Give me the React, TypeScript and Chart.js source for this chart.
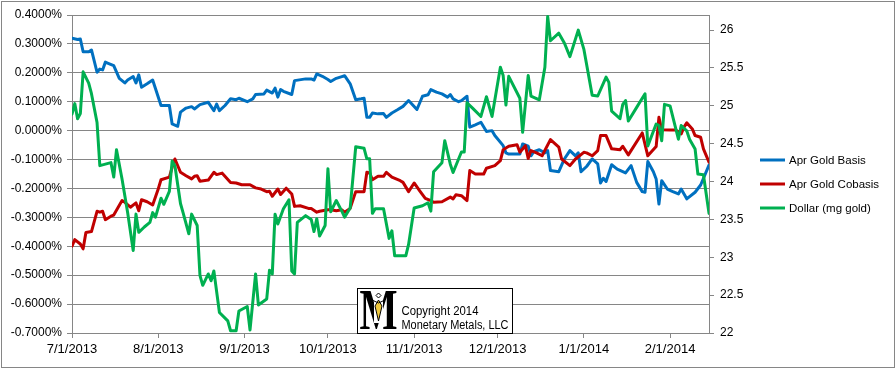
import React, { useEffect, useRef } from 'react';
import { Chart, registerables } from 'chart.js';

Chart.register(...registerables);

// x values are days since 7/1/2013
const monthTickDays = [0, 31, 62, 92, 123, 153, 184, 215];
const monthTickLabels = ['7/1/2013', '8/1/2013', '9/1/2013', '10/1/2013', '11/1/2013', '12/1/2013', '1/1/2014', '2/1/2014'];
const basisTicks = [-0.7, -0.6, -0.5, -0.4, -0.3, -0.2, -0.1, 0, 0.1, 0.2, 0.3, 0.4];
const dollarTicks = [22, 22.5, 23, 23.5, 24, 24.5, 25, 25.5, 26];

const seriesNames = ['Apr Gold Basis', 'Apr Gold Cobasis', 'Dollar (mg gold)'];

const basisDays = [0, 2, 3, 4, 6, 7, 9, 10, 11, 12, 13, 15, 17, 19, 20, 22, 23, 24, 25, 27, 29, 32, 35, 36, 38, 39, 41, 43, 44, 46, 49, 51, 52, 53, 55, 57, 59, 60, 63, 65, 66, 69, 70, 72, 73, 74, 75, 76, 79, 80, 84, 86, 87, 88, 90, 92, 93, 95, 97, 98, 100, 102, 104, 105, 106, 107, 108, 110, 112, 113, 115, 117, 119, 121, 124, 126, 128, 129, 131, 133, 135, 136, 137, 139, 140, 142, 143, 145, 147, 149, 151, 152, 155, 156, 157, 160, 161, 162, 164, 165, 166, 168, 170, 171, 172, 175, 177, 179, 181, 182, 183, 185, 187, 189, 190, 191, 192, 194, 196, 199, 201, 203, 205, 206, 207, 209, 210, 211, 212, 214, 216, 218, 219, 221, 224, 226, 229];
const basisValues = [0.320, 0.315, 0.317, 0.273, 0.273, 0.279, 0.202, 0.213, 0.210, 0.237, 0.233, 0.225, 0.181, 0.165, 0.175, 0.187, 0.165, 0.193, 0.150, 0.162, 0.175, 0.087, 0.087, 0.023, 0.015, 0.064, 0.078, 0.083, 0.075, 0.090, 0.098, 0.069, 0.092, 0.069, 0.087, 0.110, 0.107, 0.112, 0.100, 0.110, 0.125, 0.127, 0.140, 0.130, 0.147, 0.116, 0.142, 0.136, 0.125, 0.173, 0.179, 0.179, 0.175, 0.196, 0.188, 0.177, 0.170, 0.181, 0.187, 0.190, 0.162, 0.107, 0.110, 0.112, 0.046, 0.046, 0.061, 0.058, 0.059, 0.046, 0.061, 0.072, 0.084, 0.104, 0.073, 0.119, 0.124, 0.142, 0.133, 0.127, 0.116, 0.125, 0.110, 0.100, 0.104, 0.119, 0.012, 0.020, 0.029, -0.003, 0.000, -0.017, -0.052, -0.077, -0.081, -0.081, -0.081, -0.046, -0.054, -0.087, -0.073, -0.066, -0.077, -0.069, -0.138, -0.142, -0.098, -0.069, -0.087, -0.077, -0.142, -0.124, -0.098, -0.115, -0.181, -0.165, -0.176, -0.118, -0.133, -0.146, -0.121, -0.179, -0.211, -0.213, -0.107, -0.142, -0.167, -0.254, -0.173, -0.202, -0.211, -0.219, -0.202, -0.236, -0.213, -0.188, -0.119];

const cobasisDays = [0, 1, 3, 4, 5, 7, 9, 10, 11, 12, 14, 15, 18, 19, 21, 23, 24, 25, 27, 29, 31, 32, 35, 36, 37, 39, 41, 43, 44, 45, 46, 49, 51, 52, 54, 57, 59, 61, 64, 66, 68, 70, 71, 72, 74, 75, 77, 79, 80, 82, 85, 86, 88, 89, 92, 93, 95, 97, 98, 100, 102, 105, 106, 107, 108, 110, 112, 113, 115, 118, 119, 121, 123, 125, 127, 129, 130, 133, 136, 137, 138, 140, 142, 143, 145, 148, 149, 152, 154, 155, 157, 160, 161, 163, 164, 165, 167, 169, 172, 175, 176, 179, 181, 184, 185, 187, 189, 190, 192, 194, 197, 198, 200, 205, 207, 210, 211, 212, 215, 217, 219, 220, 221, 223, 224, 226, 227, 229];
const cobasisValues = [-0.400, -0.377, -0.392, -0.409, -0.352, -0.349, -0.279, -0.282, -0.279, -0.308, -0.296, -0.292, -0.242, -0.248, -0.265, -0.250, -0.277, -0.239, -0.246, -0.257, -0.202, -0.170, -0.161, -0.127, -0.098, -0.144, -0.156, -0.167, -0.158, -0.156, -0.175, -0.171, -0.144, -0.152, -0.147, -0.179, -0.181, -0.187, -0.187, -0.198, -0.202, -0.211, -0.210, -0.227, -0.202, -0.221, -0.199, -0.219, -0.262, -0.260, -0.269, -0.269, -0.282, -0.279, -0.274, -0.274, -0.277, -0.274, -0.282, -0.269, -0.211, -0.211, -0.144, -0.146, -0.170, -0.158, -0.158, -0.144, -0.161, -0.173, -0.179, -0.211, -0.181, -0.208, -0.234, -0.242, -0.248, -0.246, -0.230, -0.236, -0.222, -0.225, -0.242, -0.138, -0.150, -0.150, -0.130, -0.121, -0.104, -0.066, -0.054, -0.049, -0.075, -0.052, -0.096, -0.069, -0.077, -0.087, -0.031, -0.057, -0.098, -0.121, -0.098, -0.075, -0.077, -0.087, -0.069, -0.017, -0.017, -0.063, -0.066, -0.054, -0.084, -0.008, -0.087, -0.055, 0.046, 0.003, 0.002, 0.002, -0.011, 0.012, 0.027, 0.006, -0.017, -0.023, -0.063, -0.109];

const dollarDays = [0, 1, 2, 3, 4, 6, 7, 9, 10, 12, 14, 15, 16, 18, 20, 22, 23, 24, 26, 28, 29, 30, 32, 33, 35, 36, 37, 39, 40, 42, 43, 45, 46, 47, 49, 50, 51, 53, 56, 57, 59, 60, 63, 64, 66, 67, 70, 71, 72, 73, 74, 76, 78, 79, 80, 81, 84, 86, 87, 88, 89, 91, 92, 93, 95, 97, 98, 100, 102, 105, 106, 107, 108, 109, 112, 114, 115, 116, 120, 121, 123, 126, 128, 129, 130, 133, 134, 136, 137, 140, 141, 142, 144, 147, 149, 151, 154, 155, 156, 157, 161, 162, 164, 165, 168, 170, 171, 172, 175, 177, 179, 182, 184, 187, 189, 192, 193, 194, 197, 198, 199, 200, 203, 206, 207, 210, 211, 212, 213, 215, 218, 219, 221, 222, 224, 225, 227, 229];
const dollarValues = [24.89, 25.03, 24.83, 24.90, 25.45, 25.30, 25.16, 24.78, 24.21, 24.23, 24.25, 24.06, 24.42, 24.03, 23.59, 23.09, 23.57, 23.33, 23.40, 23.46, 23.59, 23.53, 23.78, 23.70, 23.87, 24.27, 24.21, 23.71, 23.58, 23.31, 23.57, 23.42, 22.76, 22.63, 22.78, 22.69, 22.82, 22.27, 22.16, 22.03, 22.03, 22.29, 22.35, 22.04, 22.78, 22.37, 22.45, 22.83, 22.78, 23.57, 23.44, 23.64, 23.76, 22.82, 22.78, 23.46, 23.55, 23.50, 23.34, 23.51, 23.28, 23.42, 24.17, 23.60, 23.75, 23.61, 23.53, 23.65, 24.46, 24.44, 24.30, 24.30, 23.58, 23.64, 23.64, 23.25, 23.35, 23.02, 23.02, 23.17, 23.65, 23.68, 23.72, 23.61, 24.13, 24.25, 24.54, 24.23, 24.12, 24.39, 24.39, 25.04, 24.97, 24.86, 25.12, 24.86, 25.51, 25.40, 25.01, 25.39, 25.10, 24.65, 25.40, 25.13, 25.08, 25.51, 26.18, 25.86, 25.96, 25.83, 25.65, 26.00, 25.75, 25.14, 25.13, 25.38, 25.31, 24.93, 24.83, 25.02, 25.07, 24.80, 24.98, 25.16, 24.47, 24.76, 24.74, 24.54, 25.02, 25.00, 24.56, 24.74, 24.67, 24.56, 24.43, 24.10, 24.09, 23.58];

const GRAY = '#868686';
const FONT = '"Liberation Sans", Arial, sans-serif';

function pairs(days: number[], values: number[]) {
  return days.map((d, i) => ({ x: d, y: values[i] }));
}

const decorations = {
  id: 'decorations',
  afterDraw(chart: any) {
    const ctx = chart.ctx;
    ctx.save();
    // outer chart border
    ctx.strokeStyle = GRAY;
    ctx.lineWidth = 1;
    ctx.strokeRect(1.5, 1.5, 893, 366);

    // legend
    ctx.font = '11.5px ' + FONT;
    ctx.textBaseline = 'middle';
    ctx.textAlign = 'left';
    chart.data.datasets.forEach((ds: any, i: number) => {
      const y = 160 + i * 24;
      ctx.strokeStyle = ds.borderColor;
      ctx.lineWidth = 3;
      ctx.beginPath();
      ctx.moveTo(760, y);
      ctx.lineTo(785, y);
      ctx.stroke();
      ctx.fillStyle = '#000';
      ctx.fillText(ds.label, 789, y + 0.5);
    });

    // copyright box
    ctx.fillStyle = '#fff';
    ctx.fillRect(357.5, 288.5, 155, 45);
    ctx.strokeStyle = '#000';
    ctx.lineWidth = 1;
    ctx.strokeRect(357.5, 288.5, 155, 45);

    ctx.save();
    ctx.fillStyle = '#000';
    ctx.font = 'bold 56px "Liberation Serif", serif';
    ctx.textAlign = 'center';
    ctx.textBaseline = 'alphabetic';
    ctx.translate(378.5, 329);
    ctx.scale(0.72, 1);
    ctx.fillText('M', 0, 0);
    ctx.restore();

    // pen nib figure
    ctx.fillStyle = '#fff';
    ctx.fillRect(374, 293, 9, 30);
    ctx.strokeStyle = '#000';
    ctx.lineWidth = 1;
    ctx.beginPath();
    ctx.moveTo(378.5, 293);
    ctx.lineTo(381, 295.5);
    ctx.lineTo(378.5, 298);
    ctx.lineTo(376, 295.5);
    ctx.closePath();
    ctx.stroke();
    ctx.fillStyle = '#F0C93C';
    ctx.beginPath();
    ctx.moveTo(378.5, 300);
    ctx.lineTo(382, 306);
    ctx.lineTo(378.5, 321);
    ctx.lineTo(375, 306);
    ctx.closePath();
    ctx.fill();
    ctx.stroke();
    ctx.beginPath();
    ctx.moveTo(372, 300);
    ctx.lineTo(378.5, 303);
    ctx.lineTo(385, 300);
    ctx.stroke();

    ctx.fillStyle = '#000';
    ctx.font = '12.5px ' + FONT;
    ctx.textAlign = 'left';
    ctx.textBaseline = 'alphabetic';
    ctx.fillText('Copyright 2014', 401.5, 314.5, 77);
    ctx.fillText('Monetary Metals, LLC', 401.5, 328.5, 107);
    ctx.restore();
  },
};

export default function App() {
  const ref = useRef<HTMLCanvasElement | null>(null);

  useEffect(() => {
    document.body.style.margin = '0';
    const canvas = ref.current;
    if (!canvas) return;
    const chart = new Chart(canvas, {
      type: 'line',
      data: {
        datasets: [
          {
            label: seriesNames[0],
            data: pairs(basisDays, basisValues),
            borderColor: '#0070C0',
            backgroundColor: '#0070C0',
            yAxisID: 'y',
            order: 2,
          },
          {
            label: seriesNames[1],
            data: pairs(cobasisDays, cobasisValues),
            borderColor: '#C00000',
            backgroundColor: '#C00000',
            yAxisID: 'y',
            order: 1,
          },
          {
            label: seriesNames[2],
            data: pairs(dollarDays, dollarValues),
            borderColor: '#00B050',
            backgroundColor: '#00B050',
            yAxisID: 'y1',
            order: 0,
          },
        ],
      },
      options: {
        responsive: false,
        animation: false,
        devicePixelRatio: 1,
        layout: { padding: { top: 15, left: 0, right: 0, bottom: 0 } },
        elements: {
          point: { radius: 0, hoverRadius: 0 },
          line: { borderWidth: 3, tension: 0, borderJoinStyle: 'round', borderCapStyle: 'round' },
        },
        plugins: {
          legend: { display: false },
          tooltip: { enabled: false },
        },
        scales: {
          x: {
            type: 'linear',
            min: 0,
            max: 229,
            afterBuildTicks: (s: any) => {
              s.ticks = monthTickDays.map((v) => ({ value: v }));
            },
            afterFit: (s: any) => {
              s.height = 36;
            },
            grid: { drawOnChartArea: false, tickLength: 5, color: GRAY },
            border: { color: GRAY },
            ticks: {
              autoSkip: false,
              maxRotation: 0,
              padding: 4,
              color: '#000',
              font: { family: FONT, size: 13 },
              callback: (_v: any, i: number) => monthTickLabels[i],
            },
          },
          y: {
            position: 'left',
            min: -0.7,
            max: 0.4,
            afterBuildTicks: (s: any) => {
              s.ticks = basisTicks.map((v) => ({ value: v }));
            },
            afterFit: (s: any) => {
              s.width = 72;
            },
            grid: { color: GRAY, tickLength: 5 },
            border: { color: GRAY },
            ticks: {
              padding: 5,
              color: '#000',
              font: { family: FONT, size: 12 },
              callback: (v: any) => Number(v).toFixed(4) + '%',
            },
          },
          y1: {
            position: 'right',
            min: 22,
            max: 26.2,
            afterBuildTicks: (s: any) => {
              s.ticks = dollarTicks.map((v) => ({ value: v }));
            },
            afterFit: (s: any) => {
              s.width = 187;
            },
            grid: { drawOnChartArea: false, color: GRAY, tickLength: 5 },
            border: { color: GRAY },
            ticks: {
              padding: 6,
              color: '#000',
              font: { family: FONT, size: 12 },
              callback: (v: any) => String(v),
            },
          },
        },
      },
      plugins: [decorations],
    });
    return () => chart.destroy();
  }, []);

  return (
    <div style={{ width: 896, height: 369 }}>
      <canvas ref={ref} width={896} height={369} style={{ display: 'block' }} />
    </div>
  );
}
